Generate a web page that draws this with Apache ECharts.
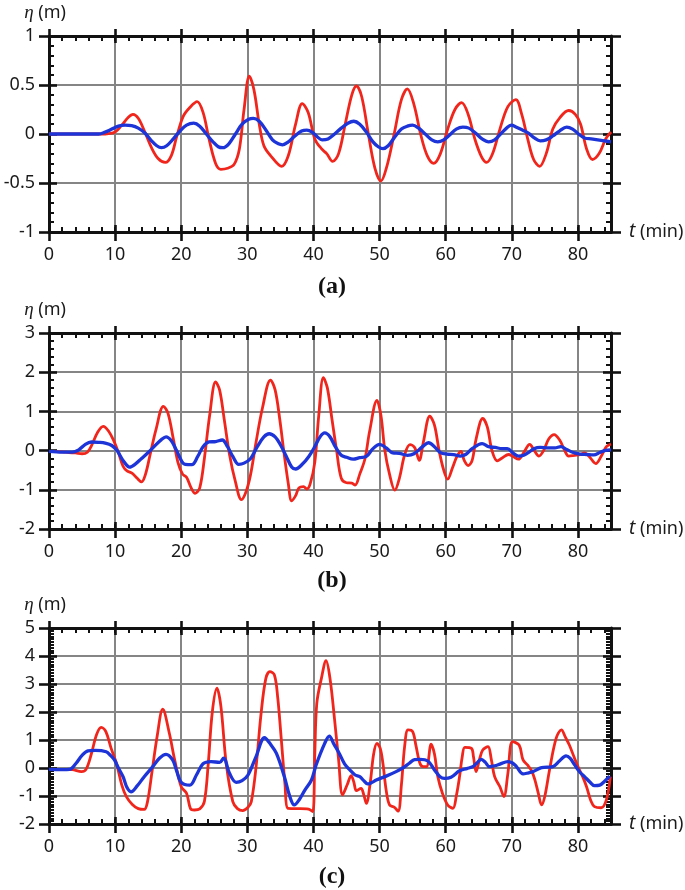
<!DOCTYPE html>
<html><head><meta charset="utf-8">
<script src="https://cdn.jsdelivr.net/npm/echarts@6/dist/echarts.min.js"></script>
<style>html,body{margin:0;padding:0;background:#fff}#c{width:685px;height:890px}</style>
</head><body><div id="c"></div>
<script>
// x tick labels (t, min)
const xTickValues = [0,10,20,30,40,50,60,70,80];

// Panel (a): [t (min), eta (m)]
const aRed = [[0,0],[2,0],[4,0],[6,0],[8,0],[9,0.005],[10,0.02],[11,0.09],[12,0.17],[12.7,0.2],[13.5,0.16],[14.5,0.02],[15.5,-0.14],[16.5,-0.25],[17.6,-0.29],[18.5,-0.22],[19.3,-0.03],[20.3,0.18],[21.3,0.27],[22.4,0.33],[23.3,0.22],[24.2,-0.05],[25.2,-0.3],[26,-0.36],[27,-0.35],[28,-0.31],[28.8,-0.15],[29.5,0.25],[30.3,0.59],[31,0.45],[31.8,0.1],[32.5,-0.12],[33.5,-0.22],[35.2,-0.33],[36.2,-0.22],[37.3,0.1],[38.3,0.31],[39.2,0.22],[40.2,-0.05],[41.2,-0.15],[42,-0.2],[42.9,-0.28],[43.8,-0.2],[44.8,0.1],[45.8,0.4],[46.5,0.49],[47.3,0.38],[48.3,0],[49.3,-0.35],[50.2,-0.48],[51.1,-0.33],[52.2,0],[53.3,0.35],[54.2,0.46],[55.2,0.3],[56.2,0],[57.2,-0.22],[58.2,-0.3],[59.2,-0.2],[60.3,0.05],[61.4,0.25],[62.4,0.32],[63.4,0.2],[64.4,-0.05],[65.4,-0.23],[66.2,-0.29],[67.1,-0.2],[68.2,0.05],[69.4,0.28],[70.6,0.35],[71.5,0.2],[72.4,-0.05],[73.3,-0.26],[74.2,-0.33],[75.2,-0.2],[76.2,0.05],[77.3,0.17],[78.6,0.24],[79.6,0.2],[80.4,0.1],[81.3,-0.15],[82.2,-0.26],[83.2,-0.2],[84.2,-0.05],[85,0.02]];
const aBlue = [[0,0],[6,0],[7.5,0],[8.5,0.02],[9.5,0.05],[10.5,0.08],[11.5,0.09],[12.5,0.085],[13.5,0.06],[14.5,0.01],[15.5,-0.07],[16.3,-0.12],[17,-0.14],[17.8,-0.12],[18.8,-0.05],[19.8,0.03],[20.8,0.09],[21.9,0.11],[22.8,0.08],[23.8,0],[24.8,-0.08],[25.6,-0.13],[26.3,-0.14],[27.2,-0.1],[28.2,0],[29.2,0.1],[30.2,0.15],[30.9,0.16],[31.8,0.13],[32.8,0.04],[33.8,-0.06],[34.7,-0.1],[35.3,-0.11],[36.2,-0.08],[37.2,-0.02],[38.2,0.03],[39,0.04],[39.8,0.02],[40.6,-0.03],[41.3,-0.06],[42.2,-0.05],[43.2,0],[44.2,0.06],[45.2,0.11],[46.1,0.13],[47,0.1],[48,0.02],[49,-0.08],[49.8,-0.13],[50.5,-0.15],[51.3,-0.12],[52.3,-0.03],[53.3,0.05],[54.2,0.08],[55,0.09],[55.9,0.06],[56.9,0],[57.9,-0.06],[58.8,-0.08],[59.7,-0.06],[60.6,-0.01],[61.6,0.05],[62.6,0.07],[63.5,0.06],[64.5,0.01],[65.5,-0.05],[66.5,-0.08],[67.4,-0.06],[68.3,0],[69.2,0.06],[69.9,0.09],[70.7,0.07],[71.6,0.04],[72.5,0.01],[73.4,-0.04],[74.3,-0.07],[75.2,-0.06],[76.2,-0.02],[77.2,0.03],[78.3,0.07],[79.2,0.05],[80.1,0],[81,-0.04],[82,-0.05],[83,-0.06],[84,-0.07],[85,-0.08]];

// Panel (b)
const bRed = [[0,-0.02],[2,-0.03],[3,-0.05],[4,-0.06],[5,-0.08],[5.8,-0.04],[6.5,0.15],[7.3,0.45],[8.2,0.62],[9,0.5],[9.8,0.25],[10.5,-0.05],[11.2,-0.4],[11.8,-0.52],[12.6,-0.58],[13.3,-0.7],[14,-0.8],[14.6,-0.6],[15.3,-0.1],[16.2,0.55],[17.3,1.13],[18,0.95],[18.8,0.3],[19.5,-0.3],[20.2,-0.6],[20.8,-0.68],[21.5,-0.95],[22.1,-1.09],[22.8,-0.95],[23.5,-0.2],[24.3,0.9],[25.2,1.75],[25.8,1.55],[26.5,0.8],[27.3,-0.1],[28.2,-0.8],[29.1,-1.25],[29.8,-1.05],[30.5,-0.6],[31.3,0.2],[32.3,1.1],[33.5,1.8],[34.2,1.55],[34.9,0.8],[35.5,0],[36.2,-0.85],[36.7,-1.28],[37.3,-1.15],[37.8,-0.95],[38.5,-0.92],[39,-0.98],[39.5,-0.85],[40.2,-0.3],[40.8,0.9],[41.5,1.86],[42.1,1.6],[42.8,0.8],[43.5,0],[44.2,-0.7],[45,-0.82],[45.8,-0.83],[46.3,-0.88],[47,-0.6],[47.8,-0.2],[48.5,0.5],[49.6,1.28],[50.2,0.9],[50.8,0],[51.5,-0.6],[52.3,-1.01],[53,-0.7],[53.8,-0.1],[54.6,0.15],[55.3,0.08],[56,-0.25],[56.6,0.2],[57.6,0.88],[58.3,0.65],[59,0],[59.7,-0.5],[60.3,-0.73],[61,-0.45],[61.7,-0.15],[62.3,-0.02],[62.8,-0.25],[63.4,-0.38],[64,-0.25],[64.6,0.3],[65.6,0.82],[66.3,0.6],[67,0],[67.8,-0.26],[68.6,-0.18],[69.5,-0.1],[70.2,-0.15],[71,-0.22],[71.8,-0.05],[72.7,0.16],[73.4,0],[74.1,-0.14],[74.8,0],[75.6,0.3],[76.4,0.41],[77.3,0.25],[78,0],[78.6,-0.14],[79.5,-0.12],[80.3,-0.1],[81,-0.06],[81.7,-0.15],[82.7,-0.33],[83.5,-0.15],[84.3,0.1],[85,0.17]];
const bBlue = [[0,-0.02],[2,-0.04],[3.5,-0.04],[4.5,0.02],[5.5,0.16],[6.4,0.22],[7.5,0.21],[8.5,0.19],[9.5,0.13],[10.3,0],[11.2,-0.25],[12.2,-0.42],[13,-0.35],[14,-0.2],[15,-0.05],[16,0.12],[17,0.28],[17.7,0.35],[18.5,0.25],[19.3,0],[20.1,-0.28],[20.6,-0.35],[21.6,-0.36],[22.5,-0.15],[23.3,0.1],[24.2,0.22],[25.2,0.23],[26.2,0.27],[27,0.1],[27.8,-0.15],[28.7,-0.35],[29.5,-0.32],[30.5,-0.2],[31.5,0.1],[32.5,0.35],[33.3,0.43],[34.2,0.35],[35,0.15],[35.9,-0.15],[36.7,-0.42],[37.3,-0.47],[38.3,-0.35],[39.3,-0.15],[40.2,0.1],[41,0.35],[41.7,0.45],[42.5,0.35],[43.3,0.1],[44.2,-0.12],[45,-0.17],[46,-0.22],[47,-0.18],[48,-0.15],[49,0.05],[50,0.16],[51,0.07],[52,-0.06],[53,-0.07],[54.2,-0.12],[55.2,-0.08],[56.5,0.1],[57.4,0.2],[58.3,0.1],[59.2,-0.05],[60.2,-0.09],[61.2,-0.1],[62.2,-0.14],[63,-0.1],[64,0.05],[65.5,0.18],[66.5,0.1],[67.5,0.08],[68.5,0.05],[69.3,0.05],[70.3,-0.08],[71,-0.14],[71.8,-0.12],[72.5,-0.05],[73.4,0.05],[74.3,0.08],[75.5,0.07],[76.5,0.07],[77.4,0.1],[78.3,0.03],[79.3,-0.05],[80.3,-0.09],[81.3,-0.1],[82.4,-0.11],[83.3,-0.05],[84,0],[85,0.02]];

// Panel (c)
const cRed = [[0,-0.05],[2,-0.05],[3.5,-0.06],[4.9,-0.13],[5.6,-0.05],[6.4,0.5],[7.2,1.2],[7.9,1.45],[8.6,1.3],[9.4,0.7],[10.2,0.17],[11,-0.6],[11.7,-1.02],[12.6,-1.3],[13.5,-1.45],[14.4,-1.48],[14.9,-1.2],[15.6,-0.1],[16.4,1.2],[17.2,2.1],[18.2,1.24],[19,0.3],[20,-0.67],[20.8,-0.9],[21.4,-1.45],[22,-1.5],[22.8,-1.46],[23.5,-1.2],[24.1,0.2],[24.7,2.0],[25.4,2.85],[26,2.2],[26.8,0.17],[27.8,-1.2],[28.5,-1.45],[29.3,-1.52],[30.1,-1.4],[30.6,-1.2],[31.3,0],[32.1,2.0],[32.8,3.2],[33.4,3.44],[34.1,3.32],[34.6,2.5],[35.1,1.12],[35.7,-0.6],[36.1,-1.44],[37,-1.45],[38,-1.45],[39,-1.46],[39.4,-1.48],[39.9,-1.56],[40.2,0.5],[40.5,2.3],[41.2,3.2],[41.9,3.83],[42.5,3.2],[43.2,1.71],[43.8,0.3],[44.4,-0.96],[45.1,-0.6],[45.7,-0.27],[46.1,-0.5],[46.5,-0.81],[47.2,-0.73],[47.6,-0.95],[48,-1.26],[48.6,-0.5],[49.1,0.5],[49.6,0.88],[50.1,0.7],[50.5,0.17],[51,-0.8],[51.5,-1.32],[52.2,-1.4],[52.8,-1.54],[53.3,-0.6],[53.8,0.8],[54.3,1.36],[55,1.3],[55.5,0.8],[56.1,0.17],[56.6,0.05],[57.1,0.05],[57.8,0.85],[58.3,0.5],[58.8,-0.3],[59.5,-0.9],[60.3,-1.32],[61.1,-1.44],[61.6,-1.0],[62.1,-0.3],[62.5,0.4],[62.9,0.74],[63.9,0.7],[64.2,0.4],[64.6,-0.13],[65.1,0.3],[65.6,0.64],[66.4,0.76],[66.9,0.3],[67.4,-0.31],[68.2,-0.67],[68.8,-1.02],[69.4,-0.2],[70.1,0.94],[71.1,0.82],[71.7,0.29],[72.4,0.1],[73,-0.1],[73.5,-0.43],[74,-0.9],[74.5,-1.32],[75,-1.0],[75.7,-0.07],[76.7,1.06],[77.5,1.36],[78.1,1.1],[78.7,0.82],[79.4,0.4],[80,0.05],[80.7,-0.3],[81.3,-0.67],[82,-1.2],[82.5,-1.38],[83.5,-1.42],[84.3,-1.14],[84.9,-0.31]];
const cBlue = [[0,-0.05],[2,-0.06],[3.1,-0.05],[4.1,0.17],[5,0.45],[5.9,0.61],[7,0.63],[8.65,0.58],[9.3,0.45],[9.9,0.29],[10.5,0],[11.2,-0.31],[11.8,-0.7],[12.4,-0.85],[13.3,-0.65],[14.4,-0.31],[15.7,0.05],[16.7,0.35],[17.7,0.49],[18.7,0.29],[19.3,-0.1],[20,-0.51],[21.3,-0.61],[22.3,-0.25],[23.3,0.15],[24.5,0.23],[25.8,0.2],[26.4,0.35],[27.3,-0.19],[28.3,-0.51],[29.2,-0.45],[30.1,-0.25],[31.3,0.4],[32.6,1.08],[33.5,0.85],[34.4,0.52],[35.6,-0.31],[36.4,-1.0],[37.1,-1.32],[37.8,-1.15],[38.7,-0.79],[39.7,-0.43],[40.4,0.11],[41.7,0.88],[42.4,1.14],[43.1,0.85],[43.9,0.52],[44.7,0.15],[45.5,-0.07],[46.3,-0.25],[47,-0.31],[47.6,-0.45],[48.2,-0.57],[48.8,-0.52],[49.5,-0.43],[51,-0.29],[52.5,-0.13],[53.5,0],[54.5,0.17],[55.3,0.3],[56.1,0.31],[57.3,0.25],[58.3,-0.07],[59.1,-0.3],[59.8,-0.37],[60.8,-0.33],[62.1,-0.1],[63.2,-0.02],[64.1,0.05],[64.8,0.2],[65.4,0.31],[66,0.2],[66.6,0.05],[67.4,0.08],[68.2,0.14],[69.4,0.23],[70.1,0.18],[70.7,0.05],[71.7,-0.21],[72.4,-0.18],[73.2,-0.13],[74.5,0.01],[76.2,0.05],[77.2,0.25],[78.2,0.43],[78.8,0.35],[79.5,0.11],[80.3,-0.15],[81,-0.31],[81.8,-0.5],[82.5,-0.63],[83.3,-0.61],[84,-0.48],[84.8,-0.29]];

const panelTags = ['(a)','(b)','(c)'];

const chart = echarts.init(document.getElementById('c'), null, {renderer:'canvas'});
const FONT = 'Noto Sans';
const BLACK = '#111';
const GRAY = '#858585';
const RED = '#f0261c';
const BLUE = '#1c34d8';
const GL = 49, GW = 562, GH = 196;

const panels = [
  {top:36,  min:-1, max:1, interval:0.5, minorSplit:5,  tagY:287, red:aRed, blue:aBlue, tag:panelTags[0]},
  {top:333, min:-2, max:3, interval:1,   minorSplit:5,  tagY:581, red:bRed, blue:bBlue, tag:panelTags[1]},
  {top:628, min:-2, max:5, interval:1,   minorSplit:10, tagY:877, red:cRed, blue:cBlue, tag:panelTags[2]}
];

const grid=[], xAxis=[], yAxis=[], series=[], graphic=[];
const lbl = {fontFamily:FONT, fontSize:18, color:'#1a1a1a'};
const off = {axisLabel:{show:false}, splitLine:{show:false}, axisLine:{show:false, onZero:false}, axisTick:{show:false}};

panels.forEach((p, pi) => {
  const g0 = grid.length;
  for (let k=0;k<3;k++) grid.push({left:GL, top:p.top, width:GW, height:GH});
  const xb = {type:'value', min:0, max:85};
  const yb = {type:'value', min:p.min, max:p.max, interval:p.interval};
  // Grid A: frame lines, outer ticks, labels
  const xMain = xAxis.length;
  xAxis.push(Object.assign({}, xb, off, {gridIndex:g0, position:'bottom', interval:10, z:1,
    axisLine:{show:true, onZero:false, lineStyle:{color:BLACK, width:3}},
    axisTick:{show:true, inside:false, length:9, customValues:xTickValues, lineStyle:{color:BLACK, width:2.6}},
    axisLabel:Object.assign({show:true, margin:14, customValues:xTickValues}, lbl),
    name:'{i|t} (min)', nameLocation:'end', nameGap:18,
    nameTextStyle:Object.assign({verticalAlign:'middle', rich:{i:{fontStyle:'italic', fontFamily:FONT, fontSize:19, color:'#1a1a1a'}}}, lbl)
  }));
  xAxis.push(Object.assign({}, xb, off, {gridIndex:g0, position:'top', interval:10, z:1,
    axisLine:{show:true, onZero:false, lineStyle:{color:BLACK, width:3}},
    axisTick:{show:true, inside:false, length:7, customValues:xTickValues, lineStyle:{color:BLACK, width:2.6}}
  }));
  const yMain = yAxis.length;
  yAxis.push(Object.assign({}, yb, off, {gridIndex:g0, position:'left', z:1,
    axisLine:{show:true, onZero:false, lineStyle:{color:BLACK, width:3}},
    axisTick:{show:true, inside:false, length:10, lineStyle:{color:BLACK, width:2.6}},
    axisLabel:Object.assign({show:true, margin:14}, lbl),
    name:'{i|η} (m)', nameLocation:'end', nameGap:14,
    nameTextStyle:Object.assign({align:'center', verticalAlign:'bottom', padding:[0,8,0,0], rich:{i:{fontStyle:'italic', fontFamily:'Liberation Serif', fontSize:19, color:'#1a1a1a'}}}, lbl)
  }));
  yAxis.push(Object.assign({}, yb, off, {gridIndex:g0, position:'right', z:1,
    axisLine:{show:true, onZero:false, lineStyle:{color:BLACK, width:3}},
    axisTick:{show:true, inside:false, length:10, lineStyle:{color:BLACK, width:2.6}}
  }));
  // Grid B: grid lines + inner major ticks (+ y minor ticks)
  xAxis.push(Object.assign({}, xb, off, {gridIndex:g0+1, position:'bottom', interval:10, z:0,
    axisTick:{show:true, inside:true, length:7, customValues:xTickValues, lineStyle:{color:BLACK, width:2.6}},
    splitLine:{show:true, lineStyle:{color:GRAY, width:2}}
  }));
  xAxis.push(Object.assign({}, xb, off, {gridIndex:g0+1, position:'top', interval:10, z:0,
    axisTick:{show:true, inside:true, length:7, customValues:xTickValues, lineStyle:{color:BLACK, width:2.6}}
  }));
  yAxis.push(Object.assign({}, yb, off, {gridIndex:g0+1, position:'left', z:0,
    axisTick:{show:true, inside:true, length:8, lineStyle:{color:BLACK, width:2.6}},
    minorTick:{show:true, splitNumber:p.minorSplit, length:5, lineStyle:{color:BLACK, width:2}},
    splitLine:{show:true, lineStyle:{color:GRAY, width:2}}
  }));
  yAxis.push(Object.assign({}, yb, off, {gridIndex:g0+1, position:'right', z:0,
    axisTick:{show:true, inside:true, length:8, lineStyle:{color:BLACK, width:2.6}},
    minorTick:{show:true, splitNumber:p.minorSplit, length:5, lineStyle:{color:BLACK, width:2}}
  }));
  // Grid C: x minor ticks every 2 min
  xAxis.push(Object.assign({}, xb, off, {gridIndex:g0+2, position:'bottom', interval:2, z:0,
    axisTick:{show:true, inside:true, length:5, lineStyle:{color:BLACK, width:2}}
  }));
  xAxis.push(Object.assign({}, xb, off, {gridIndex:g0+2, position:'top', interval:2, z:0,
    axisTick:{show:true, inside:true, length:5, lineStyle:{color:BLACK, width:2}}
  }));
  yAxis.push(Object.assign({}, yb, off, {gridIndex:g0+2, position:'left'}));
  yAxis.push(Object.assign({}, yb, off, {gridIndex:g0+2, position:'right'}));

  series.push({type:'line', xAxisIndex:xMain, yAxisIndex:yMain, data:p.red, showSymbol:false, smooth:0.35,
    lineStyle:{color:RED, width:2.8}, z:2, animation:false});
  series.push({type:'line', xAxisIndex:xMain, yAxisIndex:yMain, data:p.blue, showSymbol:false, smooth:0.35,
    lineStyle:{color:BLUE, width:3.3}, z:3, animation:false});
  graphic.push({type:'text', x:332, y:p.tagY, style:{text:p.tag, textAlign:'center', textVerticalAlign:'middle', align:'center', verticalAlign:'middle',
    font:'bold 24px "Liberation Serif"', fill:'#111'}});
});

chart.setOption({animation:false, backgroundColor:'#fff', grid, xAxis, yAxis, series, graphic});
</script>
</body></html>
